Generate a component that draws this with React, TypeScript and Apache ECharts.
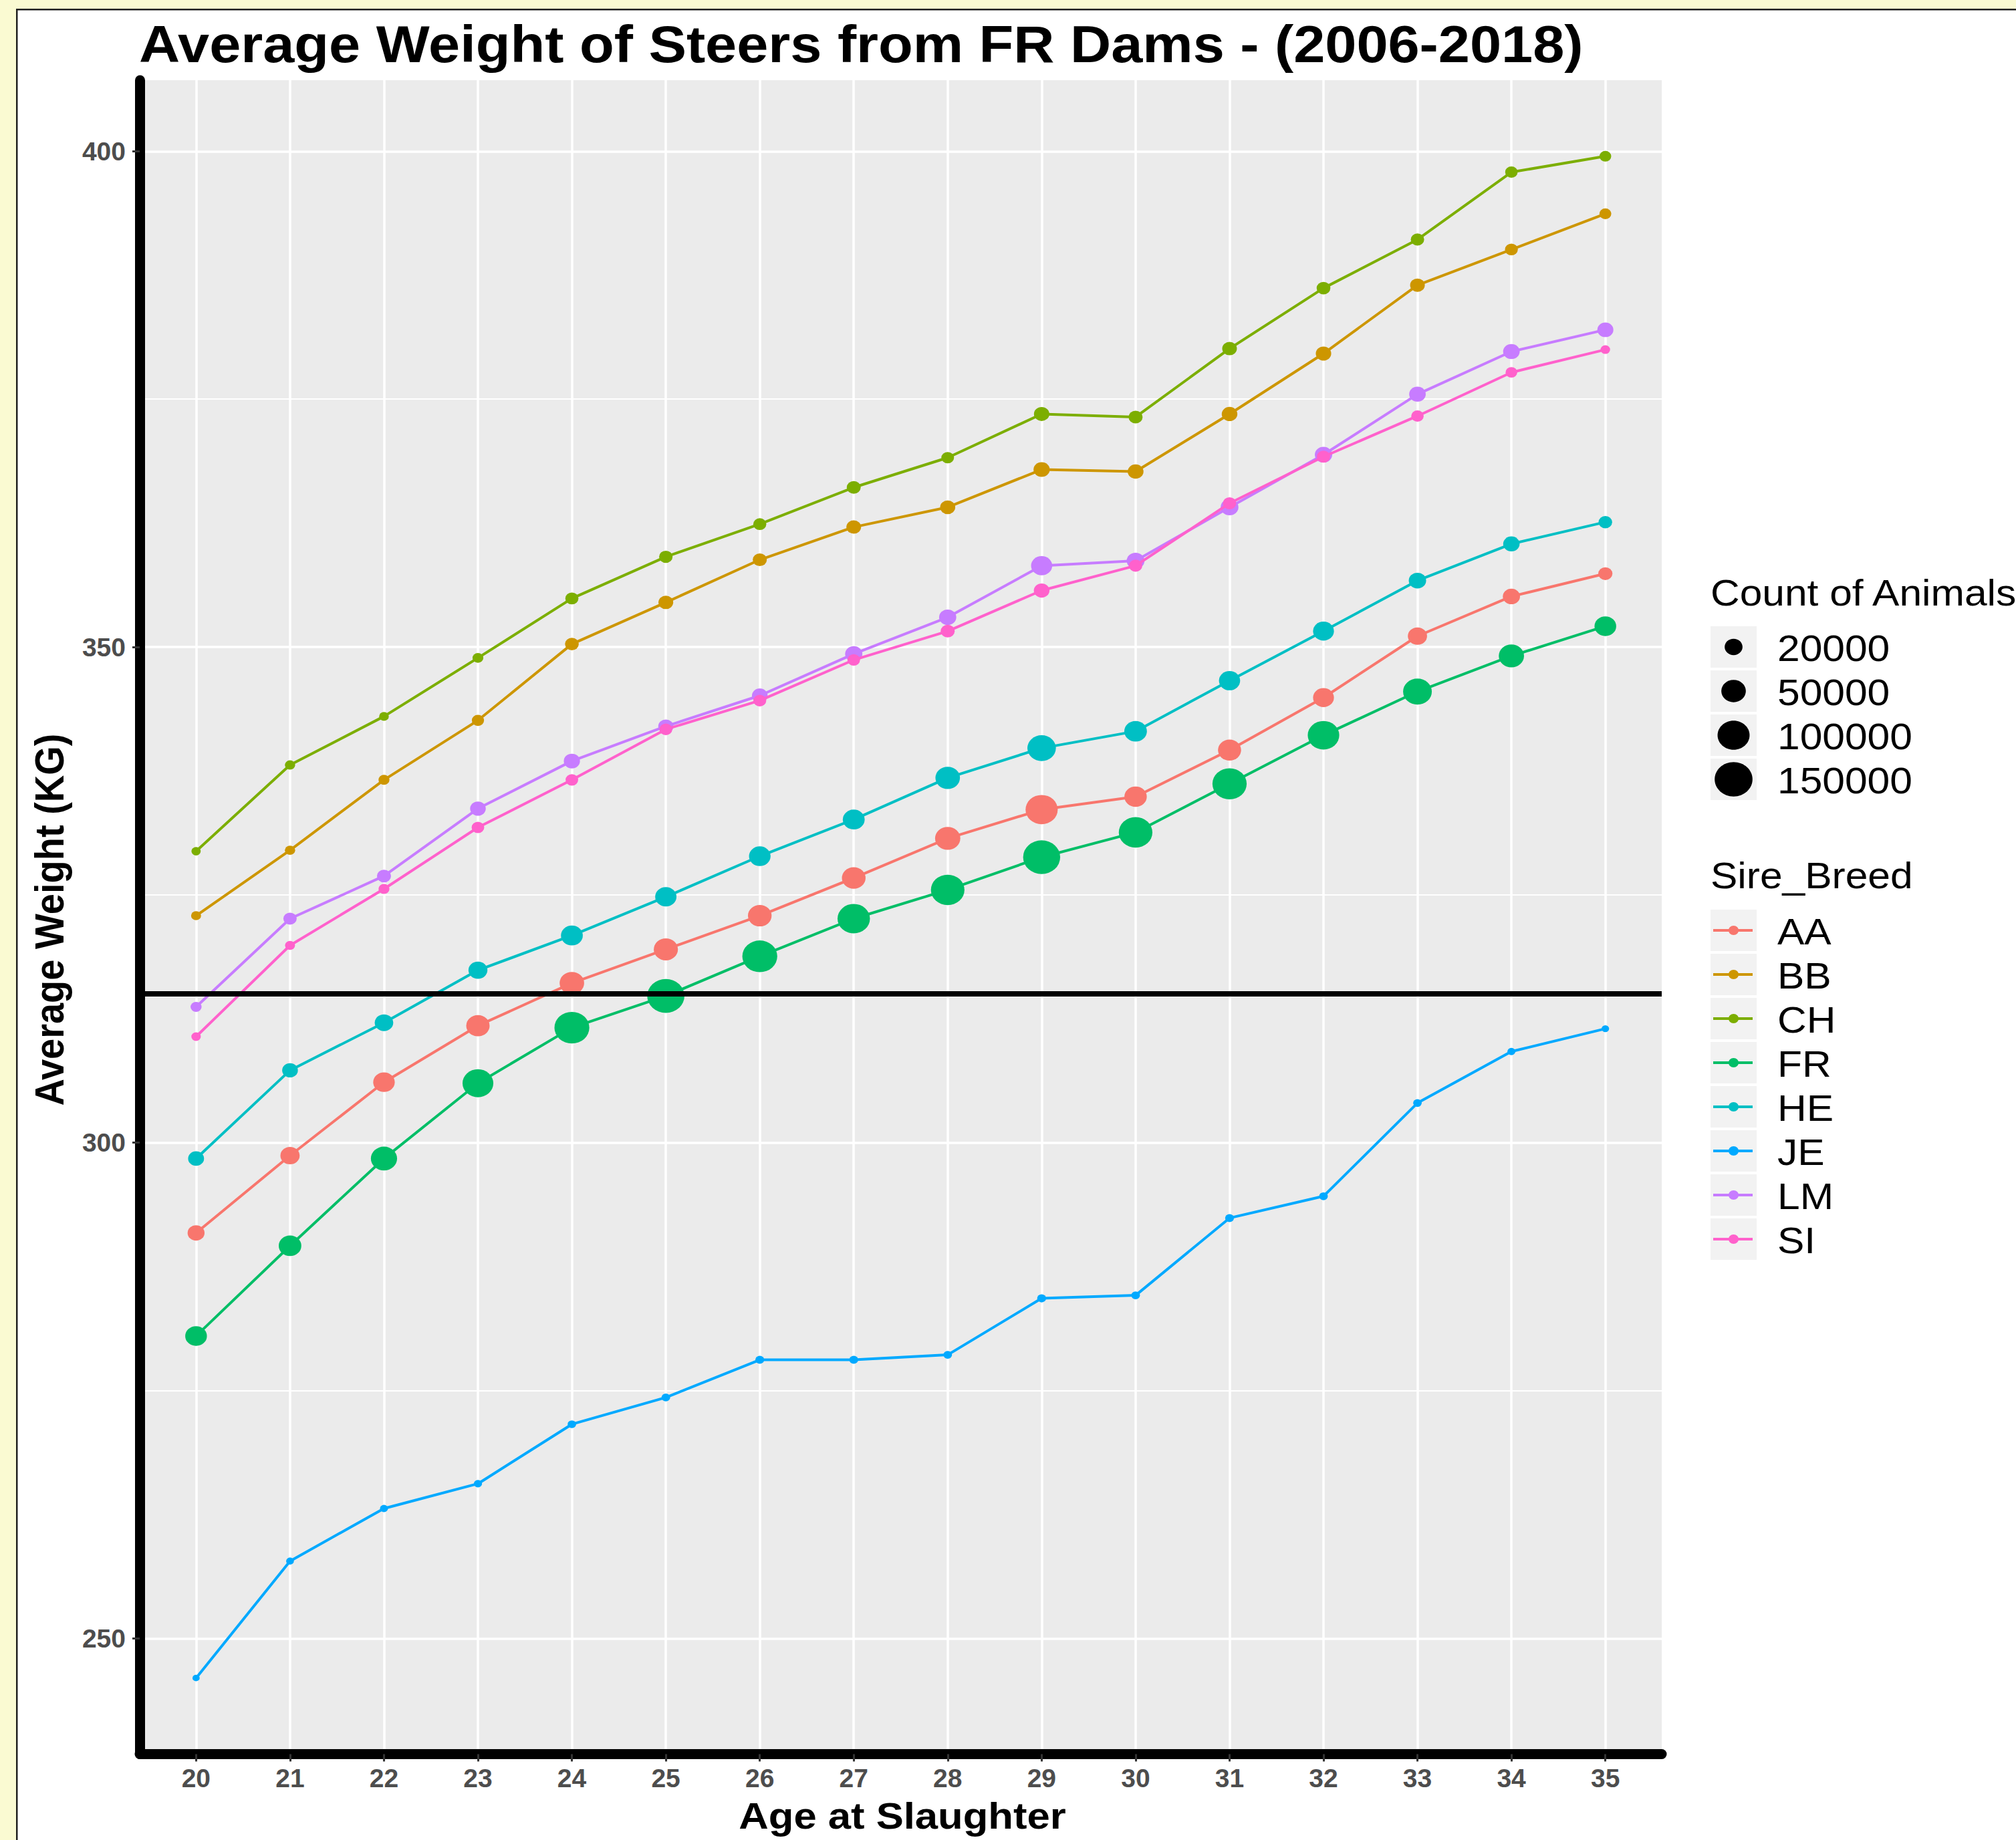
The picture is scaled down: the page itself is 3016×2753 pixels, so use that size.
import React, { useEffect, useRef } from "react";
import * as echarts from "echarts";

// ---------------- data ----------------
const ages = [20, 21, 22, 23, 24, 25, 26, 27, 28, 29, 30, 31, 32, 33, 34, 35];
const breeds = ["AA", "BB", "CH", "FR", "HE", "JE", "LM", "SI"];
const breedColors = ["#F8766D", "#CD9600", "#7CAE00", "#00BE67", "#00BFC4", "#00A9FF", "#C77CFF", "#FF61CC"];

const weightAA = [290.9, 298.7, 306.1, 311.8, 316.1, 319.5, 322.9, 326.7, 330.7, 333.6, 334.9, 339.6, 344.9, 351.1, 355.1, 357.4];
const weightBB = [322.9, 329.5, 336.6, 342.6, 350.3, 354.5, 358.8, 362.1, 364.1, 367.9, 367.7, 373.5, 379.6, 386.5, 390.1, 393.7];
const weightCH = [329.4, 338.1, 343.0, 348.9, 354.9, 359.1, 362.4, 366.1, 369.1, 373.5, 373.2, 380.1, 386.2, 391.1, 397.9, 399.5];
const weightFR = [280.5, 289.6, 298.4, 306.0, 311.6, 314.8, 318.8, 322.6, 325.5, 328.8, 331.3, 336.2, 341.1, 345.5, 349.1, 352.1];
const weightHE = [298.4, 307.3, 312.1, 317.4, 320.9, 324.8, 328.9, 332.6, 336.8, 339.8, 341.5, 346.6, 351.6, 356.7, 360.4, 362.6];
const weightJE = [246.0, 257.8, 263.1, 265.6, 271.6, 274.3, 278.1, 278.1, 278.6, 284.3, 284.6, 292.4, 294.6, 304.0, 309.2, 311.5];
const weightLM = [313.7, 322.6, 326.9, 333.7, 338.5, 342.0, 345.1, 349.3, 353.0, 358.2, 358.7, 364.1, 369.4, 375.5, 379.8, 382.0];
const weightSI = [310.7, 319.9, 325.6, 331.8, 336.6, 341.7, 344.6, 348.7, 351.6, 355.7, 358.2, 364.5, 369.2, 373.3, 377.7, 380.0];

const countAA = [17000, 25200, 35000, 44000, 50000, 48000, 45400, 45400, 54000, 101000, 39000, 42500, 32000, 25000, 17700, 9200];
const countBB = [2000, 2300, 3200, 5200, 8300, 10700, 9000, 10500, 11600, 14800, 13500, 13000, 12400, 10500, 6400, 4600];
const countCH = [1250, 2300, 1700, 3000, 6900, 7700, 6700, 8700, 6000, 12200, 8900, 10500, 8300, 7400, 5600, 4400];
const countFR = [35700, 40000, 59600, 90700, 123400, 144700, 124000, 103000, 112000, 143000, 112600, 118000, 96000, 75800, 53900, 35700];
const countHE = [13800, 13200, 22300, 24100, 36400, 33800, 35000, 36400, 50000, 74300, 40000, 33100, 32000, 18300, 15400, 7900];
const countJE = [100, 300, 400, 500, 700, 800, 900, 900, 800, 1000, 900, 900, 800, 700, 400, 200];
const countLM = [3300, 7300, 9000, 13200, 14600, 11800, 13200, 17900, 17700, 33100, 20000, 19800, 18300, 15900, 15900, 14200];
const countSI = [1440, 2000, 3200, 5900, 5900, 6300, 6400, 5900, 8900, 13000, 7400, 7400, 7300, 5600, 4200, 1500];

const weights = [weightAA, weightBB, weightCH, weightFR, weightHE, weightJE, weightLM, weightSI];
const counts = [countAA, countBB, countCH, countFR, countHE, countJE, countLM, countSI];

const yTicks = [250, 300, 350, 400];
const yMinorTicks = [275, 325, 375];
const sizeBreaks = [20000, 50000, 100000, 150000];
const referenceWeight = 315;

const titleText = "Average Weight of Steers from FR Dams - (2006-2018)";
const xTitle = "Age at Slaughter";
const yTitle = "Average Weight (KG)";
const sizeLegendTitle = "Count of Animals";
const colorLegendTitle = "Sire_Breed";

// ---------------- styling helpers ----------------
const FONT = '"Liberation Sans", Arial, sans-serif';
const STRETCH = 1.1; // the reference is stretched horizontally
const dotH = (c: number) => (9.1 + 0.1159 * Math.sqrt(c)) / 1.05;
const ELLIPSE = "path://M0,50A50,50,0,1,1,100,50A50,50,0,1,1,0,50Z";

const allW = weights.flat();
const wLo = Math.min(...allW);
const wHi = Math.max(...allW);
const wR = wHi - wLo;
const yMin = wLo - 0.05 * wR;
const yMax = wHi + 0.05 * wR;
const xMin = ages[0] - 0.6;
const xMax = ages[ages.length - 1] + 0.6;

const GRID = { left: 209, top: 120, width: 2277, height: 2504.5 };

function txt(text: string, x: number, y: number, size: number, bold: boolean, extra: any = {}) {
  return {
    type: "text",
    x,
    y,
    scaleX: STRETCH,
    silent: true,
    ...extra,
    style: {
      text,
      fill: "#000000",
      fontSize: size,
      fontWeight: bold ? "bold" : "normal",
      fontFamily: FONT,
      align: "left",
      textAlign: "left",
      verticalAlign: "middle",
      textVerticalAlign: "middle",
      ...(extra.style || {}),
    },
  };
}

function buildOption() {
  const series: any[] = breeds.map((b, i) => ({
    type: "line",
    name: b,
    data: ages.map((a, j) => [a, weights[i][j], counts[i][j]]),
    symbol: ELLIPSE,
    symbolSize: (v: number[]) => {
      const h = dotH(v[2]);
      return [h * STRETCH, h];
    },
    showSymbol: true,
    showAllSymbol: true,
    lineStyle: { color: breedColors[i], width: 4 },
    itemStyle: { color: breedColors[i] },
    emphasis: { disabled: true },
    z: i === breeds.length - 1 ? 3 : 2,
    ...(i === breeds.length - 1
      ? {
          markLine: {
            silent: true,
            symbol: ["none", "none"],
            label: { show: false },
            emphasis: { disabled: true },
            lineStyle: { color: "#000000", width: 8, type: "solid" },
            data: [{ yAxis: referenceWeight }],
          },
        }
      : {}),
  }));

  const graphics: any[] = [];
  // outer frame (pale yellow margin and dark border)
  graphics.push({ type: "rect", silent: true, shape: { x: 0, y: 0, width: 24, height: 2753 }, style: { fill: "#FAFAD2" } });
  graphics.push({ type: "rect", silent: true, shape: { x: 0, y: 0, width: 3016, height: 13 }, style: { fill: "#FAFAD2" } });
  graphics.push({ type: "rect", silent: true, shape: { x: 24, y: 13, width: 2.5, height: 2740 }, style: { fill: "#202020" } });
  graphics.push({ type: "rect", silent: true, shape: { x: 24, y: 13, width: 2992, height: 2.5 }, style: { fill: "#202020" } });

  // titles
  graphics.push(txt(titleText, 208, 66, 77, true));
  graphics.push(
    txt(xTitle, 1350, 2716, 56, true, {
      style: { align: "center", textAlign: "center" },
    })
  );
  graphics.push({
    ...txt(yTitle, 74, 1376, 56, true, { style: { align: "center", textAlign: "center" } }),
    scaleX: 1,
    scaleY: STRETCH,
    rotation: Math.PI / 2,
  });

  // size legend
  const legX = 2559;
  const keyW = 69;
  const keyH = 62;
  const pitch = 66;
  graphics.push(txt(sizeLegendTitle, legX, 887, 55, false));
  sizeBreaks.forEach((s, k) => {
    const top = 937 + k * pitch;
    const cy = top + keyH / 2;
    const h = dotH(s);
    graphics.push({ type: "rect", silent: true, shape: { x: legX, y: top, width: keyW, height: keyH }, style: { fill: "#F2F2F2" } });
    graphics.push({ type: "ellipse", silent: true, shape: { cx: legX + keyW / 2, cy, rx: (h * STRETCH) / 2, ry: h / 2 }, style: { fill: "#000000" } });
    graphics.push(txt(String(s), 2659, cy + 2, 55, false));
  });

  // colour legend
  graphics.push(txt(colorLegendTitle, legX, 1310, 55, false));
  breeds.forEach((b, k) => {
    const top = 1361 + k * pitch;
    const cy = top + keyH / 2;
    graphics.push({ type: "rect", silent: true, shape: { x: legX, y: top, width: keyW, height: keyH }, style: { fill: "#F2F2F2" } });
    graphics.push({
      type: "line",
      silent: true,
      shape: { x1: legX + 4, y1: cy, x2: legX + keyW - 6, y2: cy },
      style: { stroke: breedColors[k], lineWidth: 4 },
    });
    graphics.push({ type: "ellipse", silent: true, shape: { cx: legX + keyW / 2, cy, rx: 7.5, ry: 7 }, style: { fill: breedColors[k] } });
    graphics.push(txt(b, 2659, cy + 2, 55, false));
  });

  const tickLabelStyle = {
    color: "#4D4D4D",
    fontSize: 39,
    fontWeight: "bold",
    fontFamily: FONT,
  };

  return {
    animation: false,
    backgroundColor: "#FFFFFF",
    grid: {
      ...GRID,
      show: true,
      backgroundColor: "#EBEBEB",
      borderWidth: 0,
      containLabel: false,
      outerBoundsMode: "none",
    },
    xAxis: {
      type: "value",
      min: xMin,
      max: xMax,
      axisLine: { show: true, onZero: false, lineStyle: { color: "#000000", width: 15, cap: "round" } },
      axisTick: { show: true, length: 11, lineStyle: { color: "#333333", width: 3 }, customValues: ages },
      axisLabel: { ...tickLabelStyle, margin: 16, customValues: ages, formatter: (v: number) => String(v) },
      splitLine: { show: true, lineStyle: { color: "#FFFFFF", width: 3.5 } },
    },
    yAxis: [
      {
        type: "value",
        min: yMin,
        max: yMax,
        axisLine: { show: true, onZero: false, lineStyle: { color: "#000000", width: 15, cap: "round" } },
        axisTick: { show: true, length: 11, lineStyle: { color: "#333333", width: 3 }, customValues: yTicks },
        axisLabel: { ...tickLabelStyle, margin: 21, customValues: yTicks, formatter: (v: number) => String(v) },
        splitLine: { show: true, lineStyle: { color: "#FFFFFF", width: 3.5 } },
      },
      {
        type: "value",
        min: yMin,
        max: yMax,
        axisLine: { show: false },
        axisTick: { show: false, customValues: yMinorTicks },
        axisLabel: { show: false, customValues: yMinorTicks },
        splitLine: { show: true, lineStyle: { color: "#FFFFFF", width: 1.8 } },
      },
    ],
    tooltip: { show: false },
    series,
    graphic: { elements: graphics },
  };
}

export default function App() {
  const ref = useRef<HTMLDivElement>(null);
  useEffect(() => {
    if (!ref.current) return;
    const chart = echarts.init(ref.current, null, { renderer: "svg" });
    chart.setOption(buildOption() as any);
    return () => chart.dispose();
  }, []);
  return (
    <div
      ref={ref}
      style={{ position: "absolute", left: 0, top: 0, width: 3016, height: 2753 }}
    />
  );
}
